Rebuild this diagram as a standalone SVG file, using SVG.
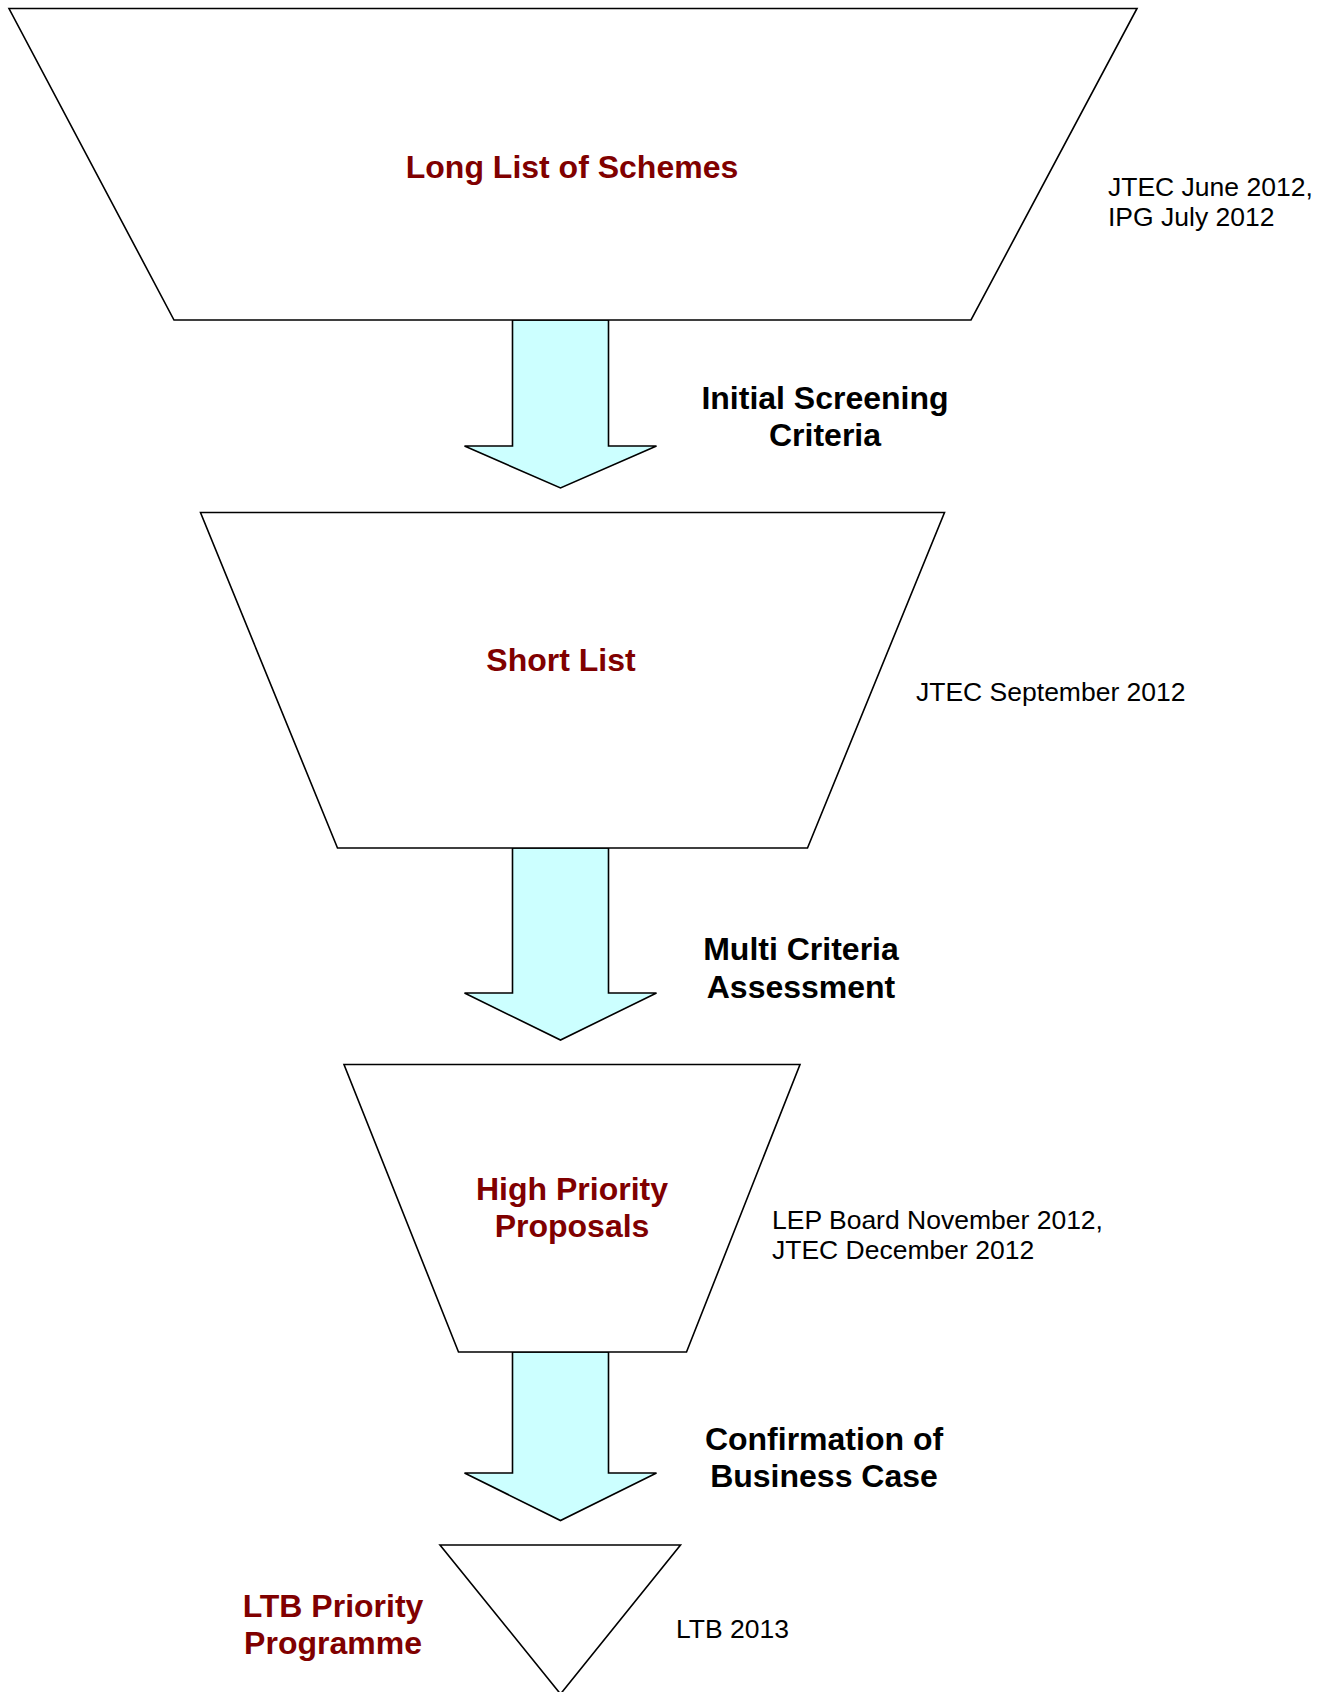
<svg xmlns="http://www.w3.org/2000/svg" width="1326" height="1692" viewBox="0 0 1326 1692">
<style>
.shape{fill:#ffffff;stroke:#000000;stroke-width:1.6;stroke-linejoin:miter}
.arrow{fill:#ccffff;stroke:#000000;stroke-width:1.6;stroke-linejoin:miter}
.title{font-family:"Liberation Sans",Arial,sans-serif;font-weight:bold;font-size:32px;fill:#800000;text-anchor:middle}
.step{font-family:"Liberation Sans",Arial,sans-serif;font-weight:bold;font-size:32px;fill:#000000;text-anchor:middle}
.note{font-family:"Liberation Sans",Arial,sans-serif;font-size:26.5px;fill:#000000}
</style>
<rect x="0" y="0" width="1326" height="1692" fill="#ffffff"/>
<g id="connectors">
<polygon id="arrow1" class="arrow" points="512.5,320 608.5,320 608.5,446 656.5,446 560.5,488 464.5,446 512.5,446"/>
<polygon id="arrow2" class="arrow" points="512.5,848 608.5,848 608.5,993 656.5,993 560.5,1040 464.5,993 512.5,993"/>
<polygon id="arrow3" class="arrow" points="512.5,1352 608.5,1352 608.5,1473 656.5,1473 560.5,1520.5 464.5,1473 512.5,1473"/>
</g>
<g id="long-list">
<polygon class="shape" points="9,8.5 1137,8.5 971,320 174,320"/>
<text class="title" x="572" y="178">Long List of Schemes</text>
</g>
<g id="long-list-note">
<text class="note" x="1108"><tspan x="1108" y="196">JTEC June 2012,</tspan><tspan x="1108" y="226">IPG July 2012</tspan></text>
</g>
<g id="initial-screening">
<text class="step" x="825"><tspan x="825" y="409">Initial Screening</tspan><tspan x="825" y="446">Criteria</tspan></text>
</g>
<g id="short-list">
<polygon class="shape" points="200.5,512.5 944.5,512.5 807.5,848 337.5,848"/>
<text class="title" x="561" y="671">Short List</text>
</g>
<g id="short-list-note">
<text class="note" x="916" y="701">JTEC September 2012</text>
</g>
<g id="multi-criteria">
<text class="step" x="801"><tspan x="801" y="960">Multi Criteria</tspan><tspan x="801" y="998">Assessment</tspan></text>
</g>
<g id="high-priority">
<polygon class="shape" points="344,1064.5 800,1064.5 686.5,1352 458.5,1352"/>
<text class="title" x="572"><tspan x="572" y="1200">High Priority</tspan><tspan x="572" y="1237">Proposals</tspan></text>
</g>
<g id="high-priority-note">
<text class="note" x="772"><tspan x="772" y="1229">LEP Board November 2012,</tspan><tspan x="772" y="1259">JTEC December 2012</tspan></text>
</g>
<g id="confirmation">
<text class="step" x="824"><tspan x="824" y="1450">Confirmation of</tspan><tspan x="824" y="1487">Business Case</tspan></text>
</g>
<g id="ltb-programme">
<polygon class="shape" points="440,1545 680.5,1545 560.5,1694"/>
<text class="title" x="333"><tspan x="333" y="1617">LTB Priority</tspan><tspan x="333" y="1654">Programme</tspan></text>
</g>
<g id="ltb-note">
<text class="note" x="676" y="1638">LTB 2013</text>
</g>
</svg>
